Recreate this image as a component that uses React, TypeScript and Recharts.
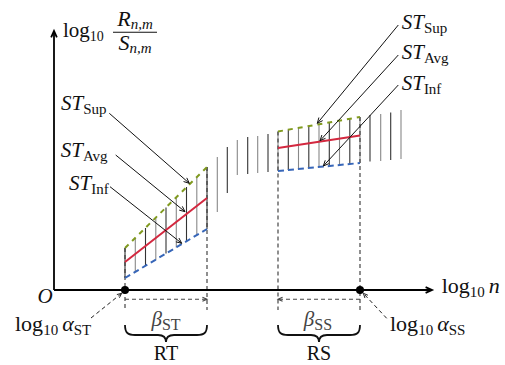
import React from 'react';
import { ComposedChart, XAxis, YAxis, Line, ReferenceLine, ReferenceDot } from 'recharts';

// plot units: x = log10 n, y = log10 R/S (arbitrary schematic units)
const rtX = [7.1, 15.3]; // log10 alpha_ST .. + beta_ST
const rtSup = [4.2, 12.3];
const rtAvg = [2.8, 9.2];
const rtInf = [1.2, 6.1];

const rsX = [22.4, 30.6]; // .. log10 alpha_SS
const rsSup = [15.85, 17.3];
const rsAvg = [14.2, 15.45];
const rsInf = [11.9, 12.7];

// vertical spread of R/S values at each n
const spreadX = [
  7.1, 8.13, 9.15, 10.18, 11.2, 12.23, 13.25, 14.28, 15.3,
  16.33, 17.33, 18.33, 19.37, 20.37, 21.4,
  22.4, 23.43, 24.45, 25.48, 26.5, 27.53, 28.55, 29.58, 30.6,
  31.6, 32.67, 33.67, 34.7,
];
const spreadLo = [
  1.2, 1.8, 2.4, 3.0, 3.65, 4.25, 4.9, 5.5, 6.1,
  7.8, 9.7, 11.5, 11.6, 11.7, 11.8,
  11.9, 12.0, 12.1, 12.2, 12.3, 12.4, 12.5, 12.6, 12.7,
  12.85, 12.9, 13.0, 13.1,
];
const spreadHi = [
  4.2, 5.2, 6.2, 7.2, 8.25, 9.25, 10.3, 11.3, 12.3,
  13.3, 14.3, 15.0, 15.3, 15.4, 15.6,
  15.85, 16.05, 16.2, 16.4, 16.6, 16.75, 16.95, 17.1, 17.3,
  17.5, 17.6, 17.75, 18.0,
];

const guideBottom = -2.0;
const betaY = -0.93;
const braceY = -3.5;

const GREEN = '#809a1f';
const RED = '#d3283f';
const BLUE = '#3766b8';
const TXT = { fontFamily: "'Liberation Serif'" };

const pts = (xs: number[], ys: number[]) => xs.map((x, i) => ({ x, y: ys[i] }));

const arrow = (color: string, dash?: string, head = 6, w = 1) => (p: any) => {
  const { x1, y1, x2, y2 } = p;
  const a = Math.atan2(y2 - y1, x2 - x1);
  const s = 0.42;
  const ax = x2 - head * Math.cos(a - s);
  const ay = y2 - head * Math.sin(a - s);
  const bx = x2 - head * Math.cos(a + s);
  const by = y2 - head * Math.sin(a + s);
  return (
    <g>
      <line x1={x1} y1={y1} x2={x2} y2={y2} stroke={color} strokeWidth={w} strokeDasharray={dash} />
      <path d={`M${ax},${ay} L${x2},${y2} L${bx},${by}`} fill="none" stroke={color} strokeWidth={w} />
    </g>
  );
};

const brace = (p: any) => {
  const { x1, y1, x2 } = p;
  const xm = (x1 + x2) / 2;
  const ym = y1 + 10;
  const yt = y1 + 17;
  const d = `M${x1},${y1} C${x1},${y1 + 8} ${x1 + 3},${ym} ${x1 + 10},${ym} L${xm - 8},${ym} C${xm - 3},${ym} ${xm},${ym + 2} ${xm},${yt} C${xm},${ym + 2} ${xm + 3},${ym} ${xm + 8},${ym} L${x2 - 10},${ym} C${x2 - 3},${ym} ${x2},${y1 + 8} ${x2},${y1}`;
  return <path d={d} fill="none" stroke="#111" strokeWidth={1.8} />;
};

const stLabel = (sub: string) => (p: any) => (
  <text x={p.cx} y={p.cy} style={TXT} fontSize={21} fill="#111">
    <tspan fontStyle="italic">ST</tspan>
    <tspan fontSize={15} dy={4}>{sub}</tspan>
  </text>
);

const logLabel = (v: string, sub?: string) => (p: any) => (
  <text x={p.cx} y={p.cy} style={TXT} fontSize={22} fill="#111">
    <tspan>log</tspan>
    <tspan fontSize={15} dy={4}>10</tspan>
    <tspan dy={-4} dx={4} fontStyle="italic">{v}</tspan>
    {sub ? <tspan fontSize={15} dy={4}>{sub}</tspan> : null}
  </text>
);

const plainLabel = (t: string, italic = false, size = 21) => (p: any) => (
  <text x={p.cx} y={p.cy} style={TXT} fontSize={size} fill="#111" textAnchor="middle" fontStyle={italic ? 'italic' : 'normal'}>
    {t}
  </text>
);

const betaLabel = (sub: string) => (p: any) => (
  <text x={p.cx} y={p.cy} style={TXT} fontSize={21} fill="#444" textAnchor="middle">
    <tspan fontStyle="italic">β</tspan>
    <tspan fontSize={16} dy={4}>{sub}</tspan>
  </text>
);

const yTitle = (p: any) => {
  const { cx, cy } = p;
  return (
    <g fill="#111">
      <text x={cx - 72} y={cy + 4.5} style={TXT} fontSize={21}>
        <tspan>log</tspan>
        <tspan fontSize={14} dy={4}>10</tspan>
      </text>
      <text x={cx} y={cy - 6.5} style={TXT} fontSize={22} textAnchor="middle">
        <tspan fontStyle="italic">R</tspan>
        <tspan fontSize={15} dy={3} fontStyle="italic">n,m</tspan>
      </text>
      <line x1={cx - 22} y1={cy} x2={cx + 22} y2={cy} stroke="#111" strokeWidth={1.1} />
      <text x={cx} y={cy + 18} style={TXT} fontSize={22} textAnchor="middle">
        <tspan fontStyle="italic">S</tspan>
        <tspan fontSize={15} dy={3} fontStyle="italic">n,m</tspan>
      </text>
    </g>
  );
};

const series = [
  { key: 'rtSup', data: pts(rtX, rtSup), color: GREEN, dash: '5 5' },
  { key: 'rtAvg', data: pts(rtX, rtAvg), color: RED, dash: undefined },
  { key: 'rtInf', data: pts(rtX, rtInf), color: BLUE, dash: '6 4' },
  { key: 'rsSup', data: pts(rsX, rsSup), color: GREEN, dash: '5 5' },
  { key: 'rsAvg', data: pts(rsX, rsAvg), color: RED, dash: undefined },
  { key: 'rsInf', data: pts(rsX, rsInf), color: BLUE, dash: '6 4' },
];

const edges = [
  { x: rtX[0], top: rtSup[0] },
  { x: rtX[1], top: rtSup[1] },
  { x: rsX[0], top: rsSup[0] },
  { x: rsX[1], top: rsSup[1] },
];

export default function App() {
  return (
    <div style={{ position: 'absolute', left: 0, top: 0, background: '#fff' }}>
      <ComposedChart width={505} height={365} margin={{ top: 0, right: 0, bottom: 0, left: 0 }}>
        <XAxis type="number" dataKey="x" domain={[-5.4, 45.1]} allowDataOverflow hide />
        <YAxis type="number" domain={[-7.5, 29]} allowDataOverflow hide />

        {spreadX.map((x, i) => (
          <ReferenceLine
            key={'s' + i}
            segment={[{ x, y: spreadLo[i] }, { x, y: spreadHi[i] }]}
            stroke={i % 2 ? '#888' : '#333'}
            strokeWidth={1.1}
          />
        ))}

        {edges.map((e, i) => (
          <ReferenceLine
            key={'e' + i}
            segment={[{ x: e.x, y: e.top }, { x: e.x, y: guideBottom }]}
            stroke="#333"
            strokeWidth={1.1}
            strokeDasharray="4 3"
          />
        ))}

        {series.map((s) => (
          <Line
            key={s.key}
            data={s.data}
            dataKey="y"
            type="linear"
            stroke={s.color}
            strokeWidth={2}
            strokeDasharray={s.dash}
            dot={false}
            activeDot={false}
            isAnimationActive={false}
          />
        ))}

        {/* axes */}
        <ReferenceLine segment={[{ x: 0, y: 0 }, { x: 0, y: 25.9 }]} shape={arrow('#000', undefined, 7, 1.8)} />
        <ReferenceLine segment={[{ x: 0, y: 0 }, { x: 37.8, y: 0 }]} shape={arrow('#000', undefined, 7, 1.8)} />
        <ReferenceDot x={rtX[0]} y={0} r={4} fill="#000" stroke="none" />
        <ReferenceDot x={rsX[1]} y={0} r={4} fill="#000" stroke="none" />

        {/* window widths */}
        <ReferenceLine segment={[{ x: rtX[0], y: betaY }, { x: rtX[1], y: betaY }]} shape={arrow('#444', '4 3', 5, 1.1)} />
        <ReferenceLine segment={[{ x: rsX[1], y: betaY }, { x: rsX[0], y: betaY }]} shape={arrow('#444', '4 3', 5, 1.1)} />
        <ReferenceLine segment={[{ x: rtX[0], y: braceY }, { x: rtX[1], y: braceY }]} shape={brace} />
        <ReferenceLine segment={[{ x: rsX[0], y: braceY }, { x: rsX[1], y: braceY }]} shape={brace} />

        {/* leaders */}
        <ReferenceLine segment={[{ x: 5.53, y: 17.67 }, { x: 13.53, y: 10.67 }]} shape={arrow('#111', undefined, 6, 1)} />
        <ReferenceLine segment={[{ x: 6.17, y: 13.5 }, { x: 13.1, y: 7.83 }]} shape={arrow('#111', undefined, 6, 1)} />
        <ReferenceLine segment={[{ x: 5.6, y: 10.33 }, { x: 12.77, y: 4.67 }]} shape={arrow('#111', undefined, 6, 1)} />
        <ReferenceLine segment={[{ x: 34.43, y: 26.5 }, { x: 26.33, y: 16.67 }]} shape={arrow('#111', undefined, 6, 1)} />
        <ReferenceLine segment={[{ x: 34.43, y: 23.5 }, { x: 26.6, y: 14.93 }]} shape={arrow('#111', undefined, 6, 1)} />
        <ReferenceLine segment={[{ x: 34.43, y: 20.5 }, { x: 26.93, y: 12.4 }]} shape={arrow('#111', undefined, 6, 1)} />
        <ReferenceLine segment={[{ x: 3.7, y: -2.8 }, { x: 6.77, y: -0.33 }]} shape={arrow('#222', '4 3', 5, 1)} />
        <ReferenceLine segment={[{ x: 33.27, y: -2.83 }, { x: 30.93, y: -0.33 }]} shape={arrow('#222', '4 3', 5, 1)} />

        {/* text */}
        <ReferenceDot x={8.1} y={25.77} r={0} shape={yTitle} />
        <ReferenceDot x={38.77} y={-0.33} r={0} shape={logLabel('n')} />
        <ReferenceDot x={-0.9} y={-1.3} r={0} shape={plainLabel('O', true)} />
        <ReferenceDot x={0.7} y={18.0} r={0} shape={stLabel('Sup')} />
        <ReferenceDot x={0.67} y={13.3} r={0} shape={stLabel('Avg')} />
        <ReferenceDot x={1.5} y={10.0} r={0} shape={stLabel('Inf')} />
        <ReferenceDot x={34.77} y={26.1} r={0} shape={stLabel('Sup')} />
        <ReferenceDot x={34.77} y={23.1} r={0} shape={stLabel('Avg')} />
        <ReferenceDot x={34.77} y={20.0} r={0} shape={stLabel('Inf')} />
        <ReferenceDot x={11.2} y={-3.6} r={0} shape={betaLabel('ST')} />
        <ReferenceDot x={26.4} y={-3.6} r={0} shape={betaLabel('SS')} />
        <ReferenceDot x={11.2} y={-7.0} r={0} shape={plainLabel('RT', false, 20)} />
        <ReferenceDot x={26.5} y={-7.0} r={0} shape={plainLabel('RS', false, 20)} />
        <ReferenceDot x={-3.9} y={-4.1} r={0} shape={logLabel('α', 'ST')} />
        <ReferenceDot x={33.6} y={-4.1} r={0} shape={logLabel('α', 'SS')} />
      </ComposedChart>
    </div>
  );
}
